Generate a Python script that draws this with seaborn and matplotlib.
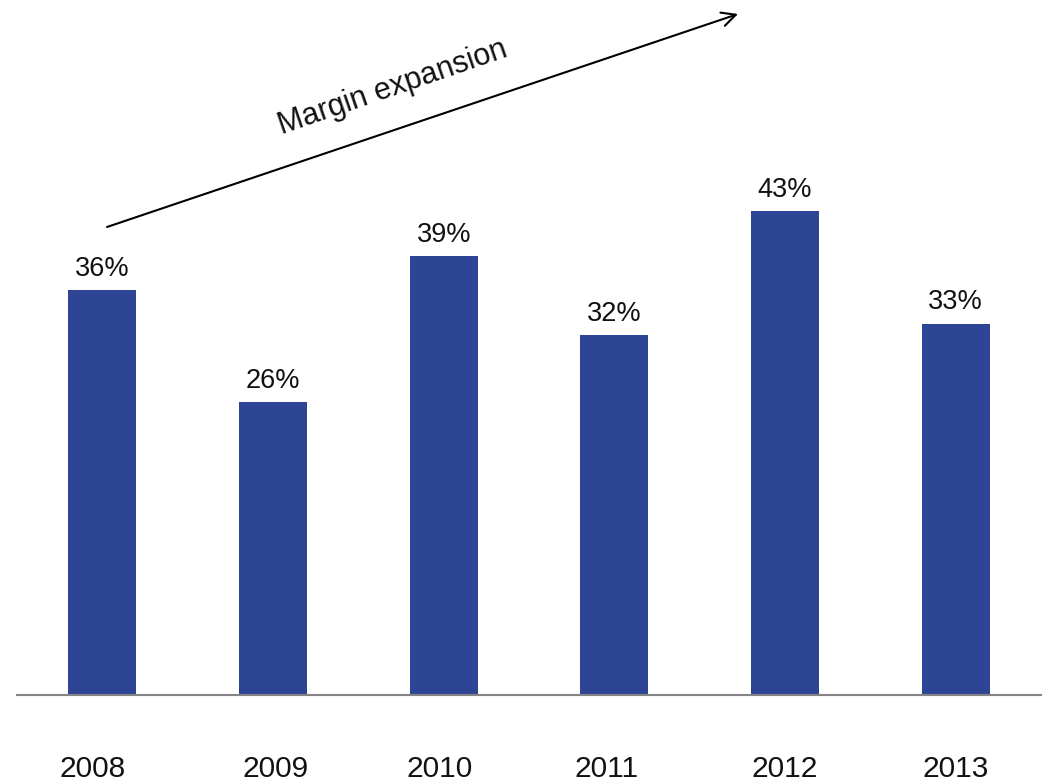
import matplotlib
matplotlib.use("Agg")
import matplotlib.pyplot as plt
import matplotlib.transforms as mtransforms
import seaborn as sns
import pandas as pd

years = ["2008", "2009", "2010", "2011", "2012", "2013"]
margins = [36, 26, 39, 32, 43, 33]
value_labels = ["36%", "26%", "39%", "32%", "43%", "33%"]

sns.set_style("white")
plt.rcParams["font.family"] = ["Liberation Sans", "DejaVu Sans"]

df = pd.DataFrame({"year": years, "margin": margins})

fig = plt.figure(figsize=(10.44, 7.84), dpi=100)
ax = fig.add_axes([17 / 1044, 89 / 784, (1041 - 17) / 1044, 619 / 784])

sns.barplot(data=df, x="year", y="margin", color="#2E4495", width=0.4,
            saturation=1, linewidth=0, ax=ax)

ax.set_xlim(-0.5, 5.5)
ax.set_ylim(0, 55)
ax.bar_label(ax.containers[0], labels=value_labels, padding=6, fontsize=19.5,
             color="#111111")

for s in ["top", "right", "left"]:
    ax.spines[s].set_visible(False)
ax.spines["bottom"].set_color("#858585")
ax.spines["bottom"].set_linewidth(1.5)
ax.set_yticks([])
ax.set_xlabel("")
ax.set_ylabel("")
ax.tick_params(axis="x", length=0, pad=43, labelsize=21.5, labelcolor="#111111")

# slight horizontal offsets of the year labels (in pixels), as in the original
label_shift_px = [-10, 3, -4.5, -8, 0, 0]
for lab, dx in zip(ax.get_xticklabels(), label_shift_px):
    lab.set_transform(lab.get_transform() +
                      mtransforms.ScaledTranslation(dx / 100, 0, fig.dpi_scale_trans))

ax.annotate("", xy=(738 / 1044, 1 - 14 / 784), xycoords="figure fraction",
            xytext=(107 / 1044, 1 - 227 / 784), textcoords="figure fraction",
            arrowprops=dict(arrowstyle="->", color="black", lw=1.5,
                            mutation_scale=25, shrinkA=0, shrinkB=0),
            annotation_clip=False)
fig.text(393 / 1044, 1 - 88 / 784, "Margin expansion", rotation=19,
         rotation_mode="anchor", ha="center", va="center", fontsize=22,
         color="#111111")

fig.savefig("out.png", dpi=100)
